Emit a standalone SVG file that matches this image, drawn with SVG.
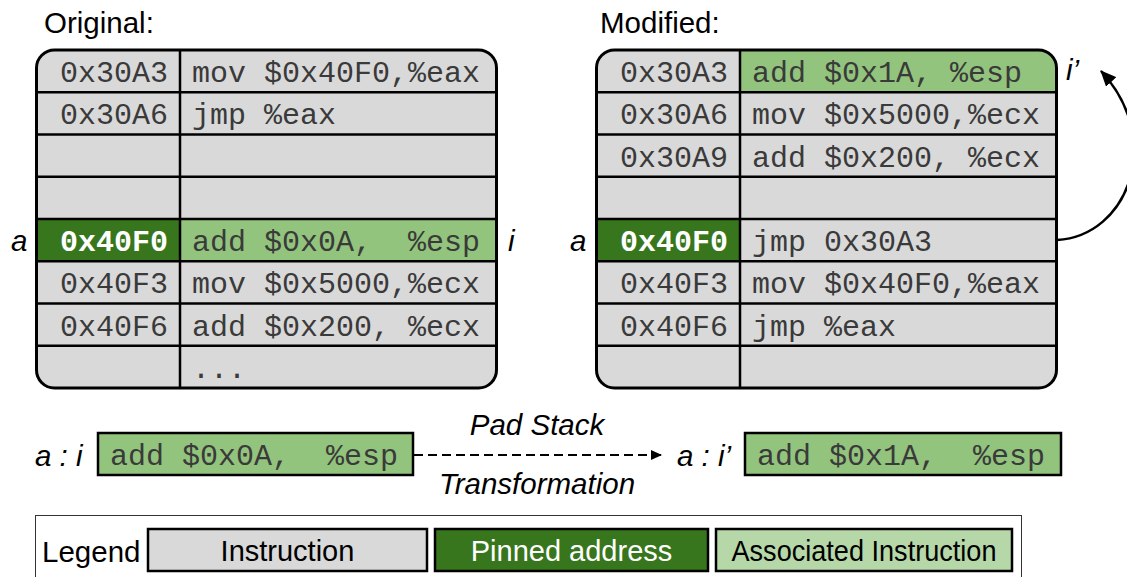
<svg xmlns="http://www.w3.org/2000/svg" width="1127" height="577" viewBox="0 0 1127 577">
  <style>
    .mono { font-family: "Liberation Mono", "Courier New", monospace; font-size: 30px; fill: #3a3a3a; }
    .addr { text-anchor: end; }
    .pin { font-weight: bold; fill: #ffffff; }
    .lbl { font-family: "Liberation Sans", Arial, sans-serif; font-size: 29.5px; font-style: italic; fill: #000; }
    .title { font-family: "Liberation Sans", Arial, sans-serif; font-size: 29.5px; fill: #000; }
    .leg { font-family: "Liberation Sans", Arial, sans-serif; font-size: 29px; text-anchor: middle; fill: #000; }
    .grid { stroke: #000; stroke-width: 2.5; fill: none; }
    .frame { stroke: #000; stroke-width: 3; fill: none; }
    .gray { fill: #d9d9d9; }
    .lgreen { fill: #93c47d; }
    .dgreen { fill: #38761d; }
    .box { stroke: #000; stroke-width: 2.5; }
  </style>
  <defs>
    <clipPath id="clipL"><rect x="36.5" y="50" width="460" height="338" rx="18" ry="18"/></clipPath>
    <clipPath id="clipR"><rect x="596.5" y="50" width="460" height="338" rx="18" ry="18"/></clipPath>
    <marker id="head" markerWidth="11" markerHeight="10" refX="10" refY="5" orient="auto" markerUnits="userSpaceOnUse">
      <path d="M0,0 L11,5 L0,10 Z" fill="#000"/>
    </marker>
    <marker id="head2" markerWidth="16" markerHeight="14" refX="15" refY="7" orient="auto" markerUnits="userSpaceOnUse">
      <path d="M0,0 L16,7 L0,14 Z" fill="#000"/>
    </marker>
  </defs>

  <!-- Original code layout -->
  <g id="original">
    <text class="title" x="44" y="33">Original:</text>
    <g clip-path="url(#clipL)">
      <rect class="gray" x="36.5" y="50" width="460" height="338"/>
      <rect class="dgreen" x="36.5" y="219" width="143.5" height="42.25"/>
      <rect class="lgreen" x="180" y="219" width="316.5" height="42.25"/>
    </g>
    <g class="grid">
      <line x1="36.5" y1="92.25" x2="496.5" y2="92.25"/>
      <line x1="36.5" y1="134.5" x2="496.5" y2="134.5"/>
      <line x1="36.5" y1="176.75" x2="496.5" y2="176.75"/>
      <line x1="36.5" y1="219" x2="496.5" y2="219"/>
      <line x1="36.5" y1="261.25" x2="496.5" y2="261.25"/>
      <line x1="36.5" y1="303.5" x2="496.5" y2="303.5"/>
      <line x1="36.5" y1="345.75" x2="496.5" y2="345.75"/>
      <line x1="180" y1="50" x2="180" y2="388"/>
    </g>
    <rect class="frame" x="36.5" y="50" width="460" height="338" rx="18" ry="18"/>
    <text class="mono addr" x="168" y="82">0x30A3</text>
    <text class="mono" x="192" y="82">mov $0x40F0,%eax</text>
    <text class="mono addr" x="168" y="124.25">0x30A6</text>
    <text class="mono" x="192" y="124.25">jmp %eax</text>
    <text class="mono addr pin" x="168" y="251">0x40F0</text>
    <text class="mono" x="192" y="251" xml:space="preserve">add $0x0A,  %esp</text>
    <text class="mono addr" x="168" y="293.25">0x40F3</text>
    <text class="mono" x="192" y="293.25">mov $0x5000,%ecx</text>
    <text class="mono addr" x="168" y="335.5">0x40F6</text>
    <text class="mono" x="192" y="335.5">add $0x200, %ecx</text>
    <text class="mono" x="192" y="377.75">...</text>
    <text class="lbl" x="11" y="251">a</text>
    <text class="lbl" x="508" y="251">i</text>
  </g>

  <!-- Modified code layout -->
  <g id="modified">
    <text class="title" x="600" y="33">Modified:</text>
    <g clip-path="url(#clipR)">
      <rect class="gray" x="596.5" y="50" width="460" height="338"/>
      <rect class="lgreen" x="740" y="50" width="316.5" height="42.25"/>
      <rect class="dgreen" x="596.5" y="219" width="143.5" height="42.25"/>
    </g>
    <g class="grid">
      <line x1="596.5" y1="92.25" x2="1056.5" y2="92.25"/>
      <line x1="596.5" y1="134.5" x2="1056.5" y2="134.5"/>
      <line x1="596.5" y1="176.75" x2="1056.5" y2="176.75"/>
      <line x1="596.5" y1="219" x2="1056.5" y2="219"/>
      <line x1="596.5" y1="261.25" x2="1056.5" y2="261.25"/>
      <line x1="596.5" y1="303.5" x2="1056.5" y2="303.5"/>
      <line x1="596.5" y1="345.75" x2="1056.5" y2="345.75"/>
      <line x1="740" y1="50" x2="740" y2="388"/>
    </g>
    <rect class="frame" x="596.5" y="50" width="460" height="338" rx="18" ry="18"/>
    <text class="mono addr" x="728" y="82">0x30A3</text>
    <text class="mono" x="752" y="82">add $0x1A, %esp</text>
    <text class="mono addr" x="728" y="124.25">0x30A6</text>
    <text class="mono" x="752" y="124.25">mov $0x5000,%ecx</text>
    <text class="mono addr" x="728" y="166.5">0x30A9</text>
    <text class="mono" x="752" y="166.5">add $0x200, %ecx</text>
    <text class="mono addr pin" x="728" y="251">0x40F0</text>
    <text class="mono" x="752" y="251">jmp 0x30A3</text>
    <text class="mono addr" x="728" y="293.25">0x40F3</text>
    <text class="mono" x="752" y="293.25">mov $0x40F0,%eax</text>
    <text class="mono addr" x="728" y="335.5">0x40F6</text>
    <text class="mono" x="752" y="335.5">jmp %eax</text>
    <text class="lbl" x="570" y="251">a</text>
    <text class="lbl" x="1066" y="80">i’</text>
  </g>

  <!-- Transformation example -->
  <g id="before">
    <text class="lbl" x="35" y="466" xml:space="preserve">a : i</text>
    <rect class="lgreen box" x="98" y="433" width="315" height="42"/>
    <text class="mono" x="110" y="465" xml:space="preserve">add $0x0A,  %esp</text>
  </g>
  <g id="after">
    <text class="lbl" x="677" y="466" xml:space="preserve">a : i’</text>
    <rect class="lgreen box" x="745" y="433" width="316" height="42"/>
    <text class="mono" x="757" y="465" xml:space="preserve">add $0x1A,  %esp</text>
  </g>

  <g id="connectors" fill="none" stroke="#000">
    <path d="M1057,240 C1128,236 1165,140 1101,71" stroke-width="2.5" marker-end="url(#head2)"/>
    <line x1="414" y1="455" x2="661" y2="455" stroke-width="2" stroke-dasharray="9,5" marker-end="url(#head)"/>
    <text class="lbl" x="537" y="435" text-anchor="middle" stroke="none">Pad Stack</text>
    <text class="lbl" x="537" y="494" text-anchor="middle" stroke="none">Transformation</text>
  </g>

  <!-- Legend -->
  <g id="legend">
    <rect x="35.5" y="515.5" width="986" height="80" fill="none" stroke="#333" stroke-width="1"/>
    <text class="title" x="42" y="562">Legend</text>
    <rect class="gray box" x="148" y="529" width="279" height="42"/>
    <text class="leg" x="287.5" y="561">Instruction</text>
    <rect class="dgreen box" x="435" y="529" width="273" height="42"/>
    <text class="leg" x="571.5" y="561" style="fill:#fff">Pinned address</text>
    <rect class="box" x="716" y="529" width="296" height="42" fill="#b6d7a8"/>
    <text class="leg" x="864" y="561" textLength="265" lengthAdjust="spacingAndGlyphs">Associated Instruction</text>
  </g>
</svg>
